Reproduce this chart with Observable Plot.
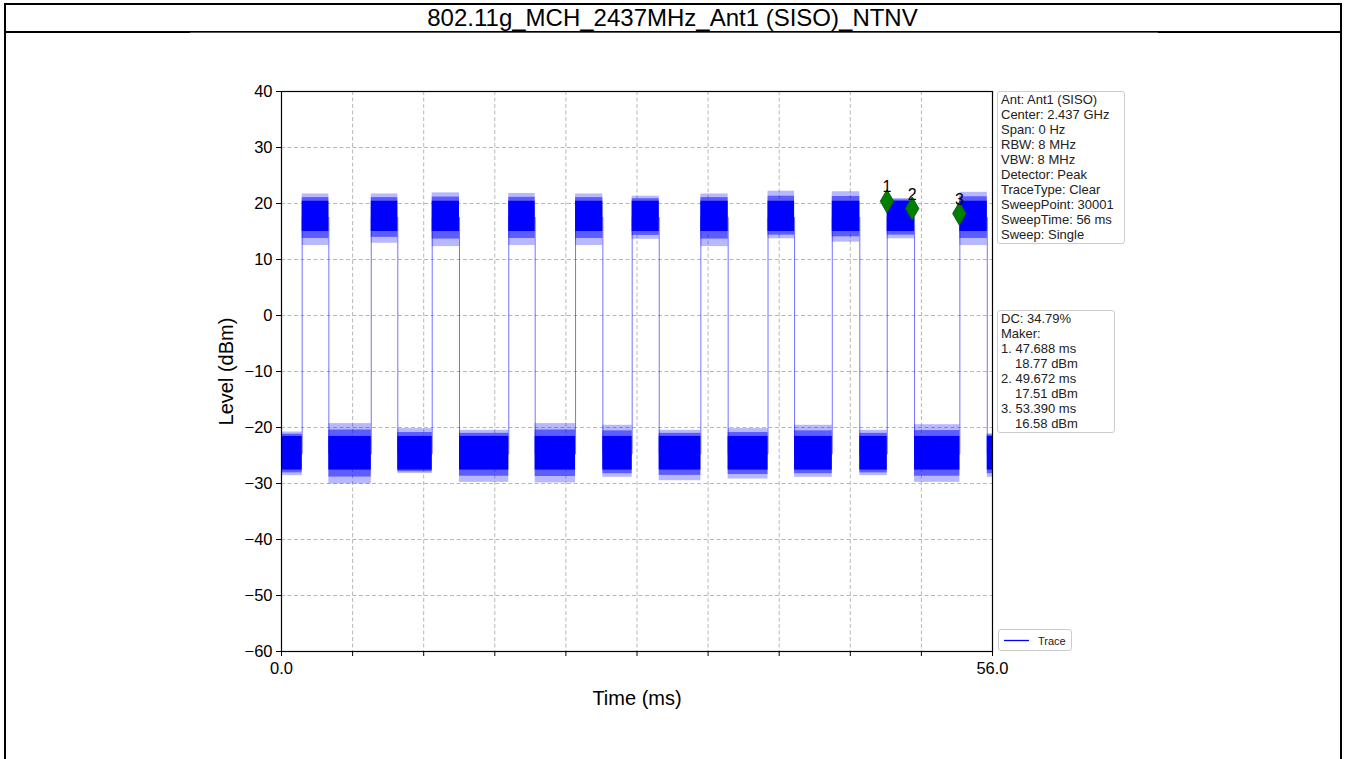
<!DOCTYPE html>
<html>
<head>
<meta charset="utf-8">
<script src="https://cdn.jsdelivr.net/npm/d3@7"></script>
<script src="https://cdn.jsdelivr.net/npm/@observablehq/plot@0.6"></script>
<style>
  html, body { margin: 0; padding: 0; background: #fff; }
  body { width: 1345px; height: 759px; position: relative; overflow: hidden; font-family: "Liberation Sans", Arial, sans-serif; }
  .bar { position: absolute; background: #000; }
  #title { position: absolute; left: 0; top: 4px; width: 1345px; text-align: center; font-size: 24px; line-height: 27px; color: #000; }
  #chartbg { position: absolute; left: 190px; top: 32px; width: 968px; height: 727px; background: #fff; border-top: 1px solid #555; }
  #plot { position: absolute; left: 0; top: 33px; }
  .box { position: absolute; background: rgba(255,255,255,0.85); border: 1px solid #cccccc; border-radius: 3px; font-size: 13px; line-height: 15px; color: #222; padding: 0px 3px 1px 3px; white-space: pre; box-sizing: border-box; }
  .ind { padding-left: 14px; }
</style>
</head>
<body>
<div class="bar" style="left:4px;top:3px;width:1338px;height:2px"></div>
<div class="bar" style="left:4px;top:3px;width:2px;height:756px"></div>
<div class="bar" style="left:1340px;top:3px;width:2px;height:756px"></div>
<div class="bar" style="left:4px;top:31px;width:1338px;height:2px"></div>
<div id="title"></div>
<div id="chartbg"></div>
<div id="plot"></div>
<div id="info1" class="box" style="left:997px;top:91px;width:128px;"></div>
<div id="info2" class="box" style="left:997px;top:310px;width:118px;"></div>
<div id="legend" class="box" style="left:998px;top:629px;width:74px;height:22px;padding:0;">
  <svg width="72" height="20" style="position:absolute;left:0;top:0">
    <line x1="5" x2="30" y1="10.5" y2="10.5" stroke="#0000ff" stroke-width="1.3"></line>
    <text x="39" y="14.5" font-size="11" fill="#222" font-family="Liberation Sans, Arial, sans-serif">Trace</text>
  </svg>
</div>
<script>
// ---------------- data ----------------
const titleText = "802.11g_MCH_2437MHz_Ant1 (SISO)_NTNV";
const xLabel = "Time (ms)";
const yLabel = "Level (dBm)";
const xDomain = [0, 56];
const yDomain = [-60, 40];
const xTicks = [0, 5.6, 11.2, 16.8, 22.4, 28, 33.6, 39.2, 44.8, 50.4, 56];
const yTicks = [40, 30, 20, 10, 0, -10, -20, -30, -40, -50, -60];

// transmit bursts (ms) and their level envelope (dBm)
const burstStart = [1.63, 7.07, 11.87, 17.90, 23.16, 27.62, 33.03, 38.32, 43.38, 47.71, 53.43];
const burstEnd   = [3.73, 9.16, 14.02, 19.98, 25.31, 29.75, 35.18, 40.41, 45.55, 49.86, 55.59];
const burstPeak  = [21.7, 21.7, 21.9, 21.8, 21.7, 21.3, 21.7, 22.2, 22.1, 20.9, 22.0];
const burstDip   = [12.5, 12.9, 12.3, 12.5, 12.5, 13.6, 12.3, 13.7, 13.1, 13.7, 12.5];
const burstCoreLo = 15.0, burstCoreHi = 20.4, burstMid = 17.5;

// noise floor between bursts (dBm)
const floorPeak = [-20.8, -19.3, -20.2, -20.5, -19.3, -19.6, -20.5, -20.2, -19.6, -20.5, -19.5, -21.1];
const floorDip  = [-28.6, -30.1, -28.2, -29.8, -29.9, -28.9, -29.5, -29.2, -28.9, -28.6, -29.8, -28.9];
const floorCoreLo = -27.6, floorCoreHi = -21.6, floorMid = -24.7;

// markers
const markerLabel = ["1", "2", "3"];
const markerTime  = [47.688, 49.672, 53.390];
const markerLevel = [20.4, 19.1, 18.2];

const info1Lines = ["Ant: Ant1 (SISO)", "Center: 2.437 GHz", "Span: 0 Hz", "RBW: 8 MHz", "VBW: 8 MHz",
  "Detector: Peak", "TraceType: Clear", "SweepPoint: 30001", "SweepTime: 56 ms", "Sweep: Single"];
const info2Lines = ["DC: 34.79%", "Maker:", "1. 47.688 ms", "   18.77 dBm", "2. 49.672 ms", "   17.51 dBm",
  "3. 53.390 ms", "   16.58 dBm"];

// ---------------- build ----------------
document.getElementById("title").textContent = titleText;
function fillBox(id, lines) {
  const el = document.getElementById(id);
  lines.forEach(l => {
    const d = document.createElement("div");
    if (l.startsWith("   ")) { d.className = "ind"; d.textContent = l.trim(); }
    else d.textContent = l;
    el.appendChild(d);
  });
}
fillBox("info1", info1Lines);
fillBox("info2", info2Lines);

const bursts = burstStart.map((s, i) => ({x1: s, x2: burstEnd[i], peak: burstPeak[i], dip: burstDip[i],
  innerHi: (burstPeak[i] + burstCoreHi) / 2, innerLo: (burstDip[i] + burstCoreLo) / 2}));
const floorStarts = [xDomain[0], ...burstEnd];
const floorEnds = [...burstStart, xDomain[1]];
const floors = floorStarts.map((s, i) => ({x1: s, x2: floorEnds[i], peak: floorPeak[i], dip: floorDip[i],
  innerHi: (floorPeak[i] + floorCoreHi) / 2, innerLo: (floorDip[i] + floorCoreLo) / 2}));

const trace = [];
trace.push({t: xDomain[0], v: floorMid});
bursts.forEach(b => {
  trace.push({t: b.x1, v: floorMid}, {t: b.x1, v: burstMid}, {t: b.x2, v: burstMid}, {t: b.x2, v: floorMid});
});
trace.push({t: xDomain[1], v: floorMid});

const markers = markerTime.map((t, i) => ({t, v: markerLevel[i], label: markerLabel[i]}));

const blue = "#0000ff";
const minus = d => d < 0 ? "\u2212" + Math.abs(d) : String(d);

const chart = Plot.plot({
  width: 1345,
  height: 726,
  marginLeft: 281,
  marginRight: 353,
  marginTop: 58,
  marginBottom: 108,
  style: {background: "transparent", fontFamily: "Liberation Sans, Arial, sans-serif", color: "#000"},
  x: {domain: xDomain, label: null},
  y: {domain: yDomain, label: null},
  marks: [
    Plot.gridX(xTicks, {stroke: "#b0b0b0", strokeOpacity: 1, strokeDasharray: "4,2.5", strokeWidth: 0.9}),
    Plot.gridY(yTicks, {stroke: "#b0b0b0", strokeOpacity: 1, strokeDasharray: "4,2.5", strokeWidth: 0.9}),
    Plot.line(trace, {x: "t", y: "v", stroke: blue, strokeWidth: 1, strokeOpacity: 0.55}),
    // outer spike envelope
    Plot.rect(floors, {x1: "x1", x2: "x2", y1: "dip", y2: "peak", fill: blue, fillOpacity: 0.28}),
    Plot.rect(bursts, {x1: "x1", x2: "x2", y1: "dip", y2: "peak", fill: blue, fillOpacity: 0.28}),
    // inner envelope
    Plot.rect(floors, {x1: "x1", x2: "x2", y1: "innerLo", y2: "innerHi", fill: blue, fillOpacity: 0.5}),
    Plot.rect(bursts, {x1: "x1", x2: "x2", y1: "innerLo", y2: "innerHi", fill: blue, fillOpacity: 0.5}),
    // dense core
    Plot.rect(floors, {x1: "x1", x2: "x2", y1: floorCoreLo, y2: floorCoreHi, fill: blue}),
    Plot.rect(bursts, {x1: "x1", x2: "x2", y1: burstCoreLo, y2: burstCoreHi, fill: blue}),
    Plot.dot(markers, {x: "t", y: "v", symbol: "diamond", r: 7, fill: "#008000", stroke: "#0b5e0b", strokeWidth: 1}),
    Plot.text(markers, {x: "t", y: "v", text: "label", dy: -14, fontSize: 16, fill: "#000"}),
    Plot.frame({stroke: "#000", strokeWidth: 1.2}),
    Plot.axisX(xTicks, {tickSize: 5, tickPadding: 6, fontSize: 16.5, label: null,
      tickFormat: d => (d === xDomain[0] || d === xDomain[1]) ? d.toFixed(1) : ""}),
    Plot.axisY(yTicks, {tickSize: 5, tickPadding: 4, fontSize: 16.5, label: null, tickFormat: minus}),
    Plot.text([yLabel], {frameAnchor: "left", dx: -55, rotate: -90, fontSize: 20, text: d => d, textAnchor: "middle", fill: "#000"}),
    Plot.text([xLabel], {frameAnchor: "bottom", dy: 53, fontSize: 20, text: d => d, fill: "#000"})
  ]
});
document.getElementById("plot").appendChild(chart);
</script>
</body>
</html>
